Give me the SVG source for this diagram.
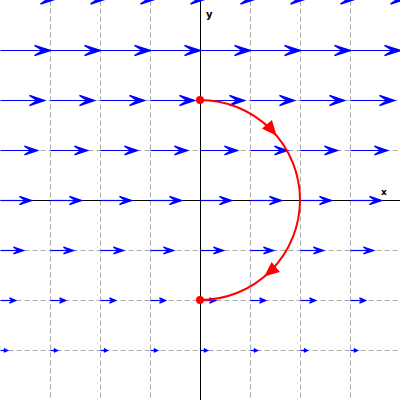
<svg xmlns="http://www.w3.org/2000/svg" width="400" height="400" viewBox="0 0 400 400">
<style>
.grid{stroke:#aaaaaa;stroke-width:1;stroke-dasharray:5,3;fill:none}
.axis{stroke:#000;stroke-width:1;fill:none}
.shaft{stroke:#0000ff;stroke-width:1.2;fill:none}
.head{fill:#0000ff;stroke:#0000ff;stroke-width:1.4;stroke-linejoin:miter}
.curve{stroke:#ff0000;stroke-width:2;fill:none}
.dot{fill:#ff0000}
.lbl{font-family:"DejaVu Sans",sans-serif;font-weight:bold;fill:#000}
</style>
<defs>
<g id="r0"><path class="shaft" d="M0,-2 H55"/><path class="head" d="M40,-7.5 L57,-2 L40,3.5 L48,-2 Z"/></g>
<g id="r1"><path class="shaft" d="M0,50 H48"/><path class="head" d="M34,45 L50,50 L34,55 L42,50 Z"/></g>
<g id="r2"><path class="shaft" d="M0,100 H42"/><path class="head" d="M29,95 L44,100 L29,105 L36.5,100 Z"/></g>
<g id="r3"><path class="shaft" d="M0,150 H35"/><path class="head" d="M24,145.7 L37,150 L24,154.3 L30.5,150 Z"/></g>
<g id="r4"><path class="shaft" d="M0,200 H29"/><path class="head" d="M19,196 L31,200 L19,204 L25,200 Z"/></g>
<g id="r5"><path class="shaft" d="M0,250 H21"/><path class="head" d="M13,246.7 L23,250 L13,253.3 L18,250 Z"/></g>
<g id="r6"><path class="shaft" d="M0,300 H14"/><path class="head" d="M9,297.5 L15,300 L9,302.5 L12,300 Z"/></g>
<g id="r7"><path class="shaft" d="M0,350 H6"/><path class="head" d="M3.5,348.3 L7,350 L3.5,351.7 L5,350 Z"/></g>
<g id="row">
<use href="#r0"/><use href="#r1"/><use href="#r2"/><use href="#r3"/><use href="#r4"/><use href="#r5"/><use href="#r6"/><use href="#r7"/>
</g>
<path id="rhead" d="M0,0 L-15,-6.5 L-15,6.5 Z" fill="#ff0000"/>
</defs>
<rect width="400" height="400" fill="#ffffff"/>
<g transform="translate(0.5,0.5)">
<g id="grid">
<path class="grid" d="M50,0 V400 M100,0 V400 M150,0 V400 M250,0 V400 M300,0 V400 M350,0 V400"/>
<path class="grid" d="M0,50 H400 M0,100 H400 M0,150 H400 M0,250 H400 M0,300 H400 M0,350 H400"/>
</g>
<g id="axes">
<path class="axis" d="M200,0 V400 M0,200 H400"/>
</g>
<g id="field">
<use href="#row" x="0"/><use href="#row" x="50"/><use href="#row" x="100"/><use href="#row" x="150"/>
<use href="#row" x="200"/><use href="#row" x="250"/><use href="#row" x="300"/><use href="#row" x="350"/>
</g>
</g>
<text class="lbl" x="381" y="195" font-size="9">x</text>
<text class="lbl" x="206" y="18" font-size="10">y</text>
<g id="connectors">
<path class="curve" d="M200,100 A100,100 0 0 1 200,300"/>
<use href="#rhead" transform="translate(276.6,135.7) rotate(50)"/>
<use href="#rhead" transform="translate(264.3,276.6) rotate(140)"/>
</g>
<g id="start"><circle class="dot" cx="200" cy="100" r="4"/></g>
<g id="end"><circle class="dot" cx="200" cy="300" r="4"/></g>
</svg>
